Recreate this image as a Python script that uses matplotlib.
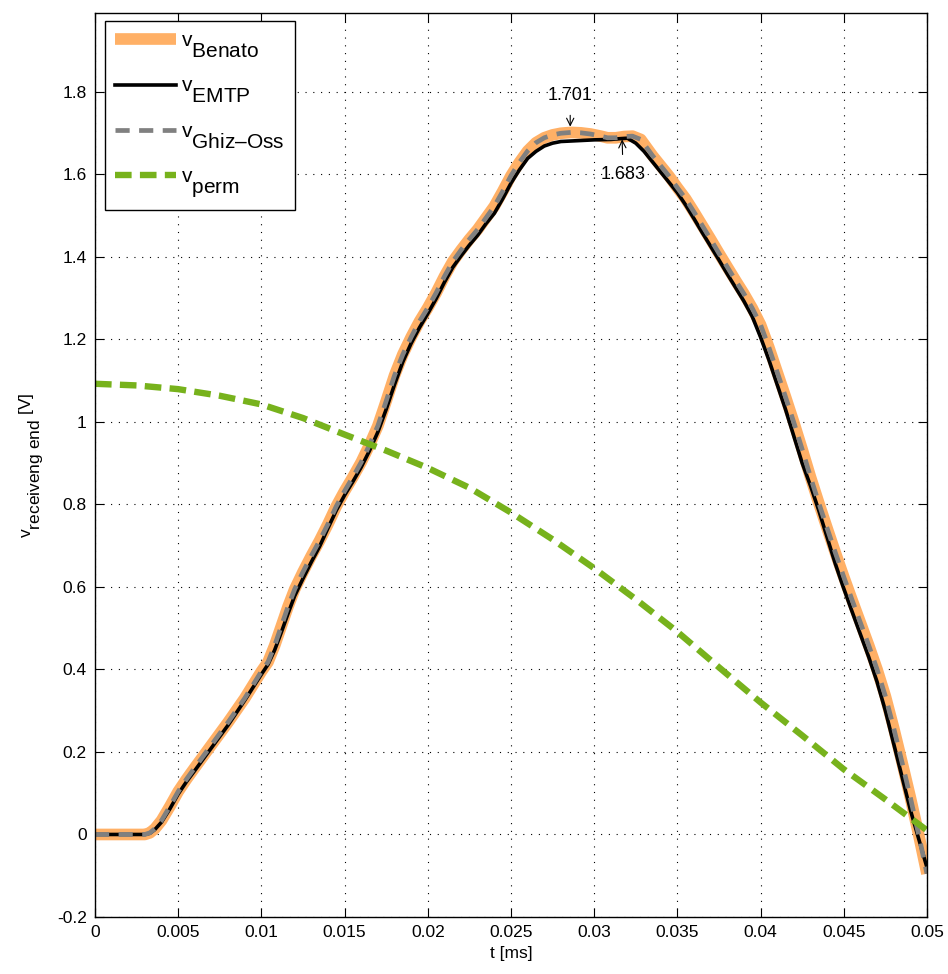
import numpy as np
import matplotlib
matplotlib.use("Agg")
import matplotlib.pyplot as plt
import matplotlib._mathtext as mathtext_internal
from matplotlib.ticker import FuncFormatter

# MATLAB keeps subscripts at full size and drops them further than mathtext does
mathtext_internal.SHRINK_FACTOR = 1.0
mathtext_internal.FontConstantsBase.sub1 = 1.05

plt.rcParams['font.family'] = ['Liberation Sans', 'DejaVu Sans']
plt.rcParams['mathtext.fontset'] = 'custom'
plt.rcParams['mathtext.rm'] = 'Liberation Sans'
plt.rcParams['mathtext.it'] = 'Liberation Sans'
plt.rcParams['mathtext.default'] = 'regular'

# ---- data (t in ms, v in V) ----
t_emtp = [0.0, 0.003, 0.0033, 0.0036, 0.004, 0.0045, 0.005, 0.0055, 0.006, 0.007,
          0.008, 0.009, 0.01, 0.0104, 0.0108, 0.0112, 0.0116, 0.012, 0.0125, 0.013,
          0.0135, 0.014, 0.0145, 0.015, 0.0155, 0.016, 0.0165, 0.017, 0.0175, 0.018,
          0.0185, 0.019, 0.0195, 0.02, 0.0205, 0.021, 0.0215, 0.022, 0.0225, 0.023,
          0.0235, 0.024, 0.0245, 0.025, 0.0255, 0.026, 0.0265, 0.027, 0.0275, 0.028,
          0.029, 0.03, 0.031, 0.0316, 0.032, 0.0325, 0.033, 0.0335, 0.034, 0.0345,
          0.035, 0.0355, 0.036, 0.0365, 0.037, 0.0375, 0.038, 0.0385, 0.039, 0.0395,
          0.04, 0.0405, 0.041, 0.0415, 0.042, 0.0425, 0.043, 0.0435, 0.044, 0.0445,
          0.045, 0.0455, 0.046, 0.0465, 0.047, 0.0475, 0.048, 0.0485, 0.049, 0.0495,
          0.05]
v_emtp = [0.0, 0.0, 0.003, 0.012, 0.03, 0.062, 0.098, 0.128, 0.155, 0.21,
          0.265, 0.325, 0.388, 0.412, 0.447, 0.49, 0.535, 0.578, 0.62, 0.66,
          0.698, 0.742, 0.785, 0.822, 0.855, 0.89, 0.93, 0.975, 1.03, 1.09,
          1.145, 1.19, 1.228, 1.262, 1.298, 1.338, 1.374, 1.402, 1.428, 1.452,
          1.48, 1.505, 1.54, 1.578, 1.61, 1.638, 1.655, 1.668, 1.675, 1.679,
          1.681, 1.683, 1.684, 1.686, 1.687, 1.675, 1.655, 1.63, 1.605, 1.58,
          1.555, 1.525, 1.492, 1.458, 1.425, 1.392, 1.358, 1.325, 1.292, 1.255,
          1.205, 1.15, 1.09, 1.03, 0.965, 0.9, 0.845, 0.785, 0.72, 0.655,
          0.596, 0.54, 0.485, 0.43, 0.37, 0.3, 0.22, 0.14, 0.06, -0.01,
          -0.08]

t_benato = [0.0, 0.003, 0.0033, 0.0036, 0.004, 0.0045, 0.005, 0.0055, 0.006, 0.007,
            0.008, 0.009, 0.01, 0.0104, 0.0108, 0.0112, 0.0116, 0.012, 0.0125, 0.013,
            0.0135, 0.014, 0.0145, 0.015, 0.0155, 0.016, 0.0165, 0.017, 0.0175, 0.018,
            0.0185, 0.019, 0.0195, 0.02, 0.0205, 0.021, 0.0215, 0.022, 0.0225, 0.023,
            0.0235, 0.024, 0.0245, 0.025, 0.0255, 0.026, 0.0265, 0.027, 0.0275, 0.028,
            0.0286, 0.0292, 0.0298, 0.0304, 0.0308, 0.0313, 0.0318, 0.0323, 0.0328, 0.0335,
            0.034, 0.0345, 0.035, 0.0355, 0.036, 0.0365, 0.037, 0.0375, 0.038, 0.0385,
            0.039, 0.0395, 0.04, 0.0405, 0.041, 0.0415, 0.042, 0.0425, 0.043, 0.0435,
            0.044, 0.0445, 0.045, 0.0455, 0.046, 0.0465, 0.047, 0.0475, 0.048, 0.0485,
            0.049, 0.0495, 0.05]
v_benato = [0.0, 0.0, 0.004, 0.014, 0.034, 0.068, 0.104, 0.134, 0.162, 0.217,
            0.272, 0.33, 0.395, 0.418, 0.458, 0.505, 0.552, 0.594, 0.636, 0.675,
            0.712, 0.752, 0.795, 0.832, 0.866, 0.902, 0.944, 0.99, 1.05, 1.112,
            1.163, 1.205, 1.243, 1.276, 1.312, 1.352, 1.388, 1.416, 1.442, 1.466,
            1.494, 1.522, 1.558, 1.596, 1.628, 1.656, 1.676, 1.688, 1.695, 1.699,
            1.701, 1.7, 1.697, 1.692, 1.688, 1.688, 1.691, 1.692, 1.684, 1.645,
            1.62, 1.595, 1.567, 1.54, 1.508, 1.475, 1.442, 1.408, 1.375, 1.342,
            1.31, 1.275, 1.235, 1.18, 1.12, 1.06, 0.998, 0.933, 0.866, 0.803,
            0.742, 0.682, 0.624, 0.568, 0.513, 0.458, 0.4, 0.335, 0.258, 0.175,
            0.09, 0.0, -0.095]

# Ghizzetti-Osserman curve sits on top of Benato at this resolution
t_ghiz = t_benato
v_ghiz = v_benato

t_perm = [0, 0.0025, 0.005, 0.0075, 0.01, 0.0125, 0.015, 0.0175, 0.02, 0.0225,
          0.025, 0.0275, 0.03, 0.0325, 0.035, 0.0375, 0.04, 0.0425, 0.045,
          0.0475, 0.05]
v_perm = [1.092, 1.088, 1.079, 1.063, 1.042, 1.009, 0.969, 0.93, 0.888, 0.84,
          0.78, 0.715, 0.645, 0.57, 0.491, 0.405, 0.32, 0.24, 0.158,
          0.085, 0.01]

fig = plt.figure(figsize=(9.48, 9.74), dpi=100)
ax = fig.add_axes([0.1002, 0.0585, 0.8776, 0.928])

ax.plot(t_benato, v_benato, color='#FFB066', linewidth=8.4, solid_capstyle='butt',
        solid_joinstyle='round', label='v$_{Benato}$')
ax.plot(t_emtp, v_emtp, color='black', linewidth=2.6, solid_joinstyle='round',
        label='v$_{EMTP}$')
ax.plot(t_ghiz, v_ghiz, color='#808080', linewidth=3.4, dashes=(3.0, 2.0),
        label='v$_{Ghiz\u2013Oss}$')
ax.plot(t_perm, v_perm, color='#77B21C', linewidth=4.6, dashes=(2.6, 1.3),
        label='v$_{perm}$')

# peak annotations
ax.annotate('1.701', xy=(0.02856, 1.715), xytext=(0.02856, 1.79),
            ha='center', va='center', fontsize=13,
            arrowprops=dict(arrowstyle='->', color='black', lw=0.8,
                            shrinkA=6, shrinkB=0))
ax.annotate('1.683', xy=(0.03168, 1.684), xytext=(0.03174, 1.60),
            ha='center', va='center', fontsize=13,
            arrowprops=dict(arrowstyle='->', color='black', lw=0.8,
                            shrinkA=6, shrinkB=0))

ax.set_xlim(0, 0.05)
ax.set_ylim(-0.2, 1.99)
ax.set_xticks(np.arange(0, 0.0501, 0.005))
ax.set_yticks(np.arange(-0.2, 1.81, 0.2))
ax.xaxis.set_major_formatter(FuncFormatter(lambda x, p: '%g' % round(x, 4)))
ax.yaxis.set_major_formatter(FuncFormatter(lambda y, p: '%g' % round(y, 2)))
ax.tick_params(direction='in', length=6.5, width=0.8, top=True, right=True,
               labelsize=12.5, pad=6)
for s in ax.spines.values():
    s.set_linewidth(1.0)

ax.grid(True, color='black', linestyle=(0, (1, 6)), linewidth=0.8)

ax.set_xlabel('t [ms]', fontsize=12.5, labelpad=4)
ax.set_ylabel('v$_{receiveng\\ end}$ [V]', fontsize=12.5, labelpad=8)

leg = ax.legend(loc='upper left', bbox_to_anchor=(0.012, 0.991), borderaxespad=0,
                fontsize=15, handlelength=2.9, handletextpad=0.25, labelspacing=0.8,
                borderpad=0.5, fancybox=False, framealpha=1)
leg.get_frame().set_edgecolor('black')
leg.get_frame().set_linewidth(1.0)

fig.savefig('out.png', dpi=100)
